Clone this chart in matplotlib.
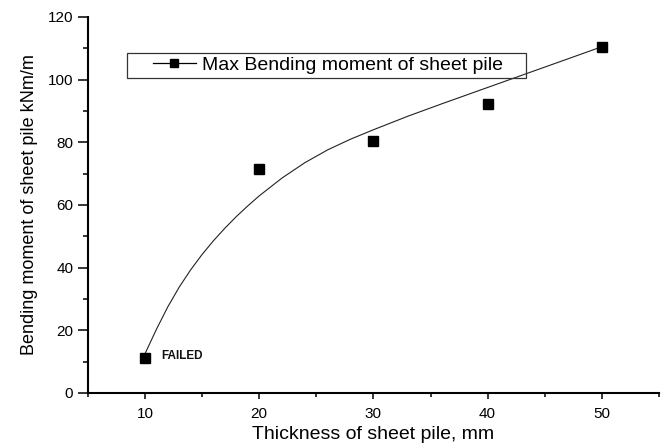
import matplotlib
matplotlib.use("Agg")
import matplotlib.pyplot as plt
from matplotlib.patches import Rectangle
from matplotlib.ticker import MultipleLocator

plt.rcParams['font.family'] = ['Liberation Sans', 'DejaVu Sans']

thickness = [10, 20, 30, 40, 50]          # mm
moment = [11.0, 71.5, 80.5, 92.2, 110.5]  # kNm/m
series_name = "Max Bending moment of sheet pile"

# smooth trend curve drawn over the measured points
trend_x = [10, 11, 12, 13, 14, 15, 16, 17, 18, 19, 20,
           22, 24, 26, 28, 30, 33, 36, 40, 45, 50]
trend_y = [12.5, 20.3, 27.5, 33.8, 39.3, 44.2, 48.6, 52.6, 56.3, 59.7, 62.9,
           68.6, 73.5, 77.6, 81.0, 84.0, 88.3, 92.3, 97.5, 104.0, 110.5]

fig = plt.figure(figsize=(6.71, 4.47), dpi=100)
ax = fig.add_axes([0.131, 0.121, 0.851, 0.841])

ax.plot(trend_x, trend_y, color='#222222', lw=0.8, zorder=2)
ax.plot(thickness, moment, 's', color='black', ms=6.5, zorder=3)

ax.text(thickness[0] + 1.4, moment[0] + 0.8, "FAILED", fontsize=8.5,
        fontweight='bold', va='center', ha='left', color='#111111')

ax.set_xlim(5, 55)
ax.set_ylim(0, 120)
ax.xaxis.set_major_locator(MultipleLocator(10))
ax.xaxis.set_minor_locator(MultipleLocator(5))
ax.yaxis.set_major_locator(MultipleLocator(20))
ax.yaxis.set_minor_locator(MultipleLocator(10))

for side in ['top', 'right']:
    ax.spines[side].set_visible(False)
for side in ['left', 'bottom']:
    ax.spines[side].set_linewidth(1.5)

ax.tick_params(axis='y', which='major', direction='out', length=7.5, width=1.1,
               labelsize=11, pad=3)
ax.tick_params(axis='y', which='minor', direction='out', length=3.5, width=1.1)
ax.tick_params(axis='x', which='major', direction='out', length=4, width=1.1,
               labelsize=11, pad=6)
ax.tick_params(axis='x', which='minor', direction='out', length=3, width=1.1)

ax.set_xlabel("Thickness of sheet pile, mm", fontsize=14, labelpad=4)
ax.set_ylabel("Bending moment of sheet pile kNm/m", fontsize=13, labelpad=7)

# legend: frameless entry inside a plain rectangle
ax.add_patch(Rectangle((0.068, 0.838), 0.699, 0.066, transform=ax.transAxes,
                       fill=False, edgecolor='#333333', lw=0.9, zorder=4))
h, = ax.plot([], [], 's-', color='black', ms=6, lw=0.9)
ax.legend([h], [series_name], loc='center left', bbox_to_anchor=(0.114, 0.871),
          frameon=False, fontsize=14, handlelength=2.2, handletextpad=0.3,
          borderpad=0, borderaxespad=0)

fig.savefig("out.png", dpi=100)
